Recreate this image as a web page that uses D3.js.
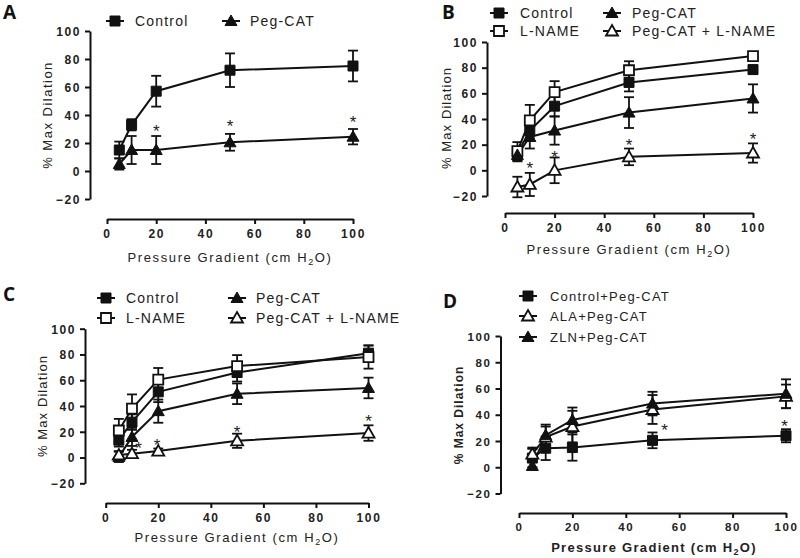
<!DOCTYPE html>
<html lang="en">
<head>
<meta charset="UTF-8">
<title>Max dilation vs pressure gradient</title>
<script src="https://cdn.jsdelivr.net/npm/d3@7/dist/d3.min.js"></script>
<style>
  body { margin: 0; background: #fff; }
  svg { display: block; font-family: "Liberation Sans", Arial, sans-serif; }
</style>
</head>
<body>
<svg width="800" height="558"></svg>
<script>
// ---- data ----
var pressure = [5, 10, 20, 50, 100];
var xTicks = [0, 20, 40, 60, 80, 100];
var yTicks = [-20, 0, 20, 40, 60, 80, 100];

// panel A
var aControl = [15, 33, 57, 72, 75];
var aControlErr = [6, 4, 11, 12, 11];
var aPegCat = [5, 15, 15, 20.5, 24.5];
var aPegCatErr = [4, 10, 10, 6, 5.5];
var aStars = [[20, 31], [50, 34], [100, 37.5]];

// panel B
var bControl = [13, 31, 50, 68.5, 78.5];
var bControlErr = [5, 6, 8, 7, 3];
var bLname = [15, 39, 61, 78, 89];
var bLnameErr = [7, 12, 8.5, 7, 2];
var bPegCat = [12, 26, 31, 45, 56];
var bPegCatErr = [5, 9, 11, 12, 11];
var bPegLname = [-13, -11, 0, 10.5, 13.5];
var bPegLnameErr = [8, 9, 10, 6.5, 7.5];
var bStars = [[10, 4], [20, 13], [50, 22], [100, 26.5]];

// panel C
var cControl = [13.5, 27.5, 51, 66, 81];
var cControlErr = [5, 6, 8, 7, 6];
var cLname = [21, 38, 60.5, 71, 78];
var cLnameErr = [9, 11, 9, 8.5, 9];
var cPegCat = [0.5, 16, 36, 49.5, 54];
var cPegCatErr = [4, 7, 9, 8, 8];
var cPegLname = [2, 3, 5, 13, 19];
var cPegLnameErr = [3, 3, 2, 5.5, 6];
var cStars = [[12.5, 10], [19.5, 12], [50, 22.5], [100, 30.5]];

// panel D
var dControlPeg = [7, 14.5, 15, 20.5, 24];
var dControlPegErr = [7, 9, 10, 6, 5];
var dAlaPeg = [10, 23, 31, 44, 54];
var dAlaPegErr = [5, 8, 12, 11, 9];
var dZlnPeg = [1, 24.5, 36, 48.5, 56];
var dZlnPegErr = [3, 8, 9.5, 9, 11];
var dStars = [[54.5, 31], [99.5, 34]];

var labelsABC = ['Control', 'L-NAME', 'Peg-CAT', 'Peg-CAT + L-NAME'];
var labelsD = ['Control+Peg-CAT', 'ALA+Peg-CAT', 'ZLN+Peg-CAT'];

var svg = d3.select('svg');

// marker shapes, centred on 0,0
function markerPath(kind) {
	if (kind.indexOf('sq') === 0) return 'M-5,-5H5V5H-5Z';
	return 'M0,-6L6,4.5L-6,4.5Z';
}
function drawMarker(g, kind, x, y) {
	var open = kind.indexOf('Open') > 0;
	g.append('path')
		.attr('d', markerPath(kind))
		.attr('transform', 'translate(' + x + ',' + y + ')')
		.attr('fill', open ? '#fff' : '#111')
		.attr('stroke', '#111')
		.attr('stroke-width', open ? 1.8 : 1);
}

function drawPanel(p) {
	var g = svg.append('g');
	var x = d3.scaleLinear().domain([0, 100]).range([p.x0, p.x1]);
	var y = d3.scaleLinear().domain([-20, 100]).range([p.yBottom, p.yTop]);

	var xAxis = g.append('g')
		.attr('transform', 'translate(0,' + p.xAxisY + ')')
		.call(d3.axisBottom(x).tickValues(xTicks).tickSize(5).tickSizeOuter(0).tickPadding(5));
	var yAxis = g.append('g')
		.attr('transform', 'translate(' + p.yAxisX + ',0)')
		.call(d3.axisLeft(y).tickValues(yTicks).tickSize(5).tickSizeOuter(0).tickPadding(4));
	[xAxis, yAxis].forEach(function (a) {
		a.select('.domain').attr('stroke', '#111').attr('stroke-width', 2);
		a.selectAll('.tick line').attr('stroke', '#111').attr('stroke-width', 2);
		a.selectAll('.tick text')
			.attr('fill', '#222')
			.style('font-family', '"Liberation Sans", Arial, sans-serif')
			.style('font-size', p.tickSize + 'px')
			.style('font-weight', 'bold')
			.style('letter-spacing', '1.6px');
	});
	yAxis.selectAll('.tick text').attr('dy', '0.36em');

	// axis titles
	var xt = g.append('text')
		.attr('x', p.xTitleX).attr('y', p.xTitleY)
		.attr('text-anchor', 'middle')
		.attr('fill', '#222')
		.style('font-size', '13px')
		.style('font-weight', p.bold ? 'bold' : 'normal')
		.style('letter-spacing', p.bold ? '1.3px' : '1.6px');
	xt.append('tspan').text('Pressure Gradient (cm H');
	xt.append('tspan').text('2').attr('dy', 3).style('font-size', '9px');
	xt.append('tspan').text('O)').attr('dy', -3);

	g.append('text')
		.attr('transform', 'translate(' + p.yTitleX + ',' + p.yTitleY + ') rotate(-90)')
		.attr('text-anchor', 'middle')
		.attr('fill', '#222')
		.style('font-size', p.bold ? '12px' : '13px')
		.style('font-weight', p.bold ? 'bold' : 'normal')
		.style('letter-spacing', p.yTitleSpacing + 'px')
		.text('% Max Dilation');

	// panel letter
	g.append('text')
		.attr('x', p.letterX).attr('y', p.letterY)
		.attr('fill', '#111')
		.style('font-family', '"Open Sans", "DejaVu Sans", sans-serif')
		.style('font-size', '19px')
		.style('font-weight', 'bold')
		.text(p.letter);

	var line = d3.line()
		.x(function (d) { return x(d.x); })
		.y(function (d) { return y(d.v); });

	p.series.forEach(function (s) {
		var pts = pressure.map(function (px, i) { return {x: px, v: s.values[i], e: s.errors[i]}; });
		g.append('path')
			.datum(pts)
			.attr('fill', 'none')
			.attr('stroke', '#111')
			.attr('stroke-width', 2)
			.attr('d', line);
		var eb = g.append('g').attr('stroke', '#111').attr('stroke-width', 1.8);
		pts.forEach(function (d) {
			var cx = x(d.x);
			eb.append('line').attr('x1', cx).attr('x2', cx).attr('y1', y(d.v + d.e)).attr('y2', y(d.v - d.e));
			eb.append('line').attr('x1', cx - 5).attr('x2', cx + 5).attr('y1', y(d.v + d.e)).attr('y2', y(d.v + d.e));
			eb.append('line').attr('x1', cx - 5).attr('x2', cx + 5).attr('y1', y(d.v - d.e)).attr('y2', y(d.v - d.e));
		});
	});
	p.series.forEach(function (s) {
		pressure.forEach(function (px, i) {
			drawMarker(g, s.kind, x(px), y(s.values[i]));
		});
	});

	p.stars.forEach(function (st) {
		g.append('text')
			.attr('x', x(st[0])).attr('y', y(st[1]) + 9)
			.attr('text-anchor', 'middle')
			.attr('fill', '#222')
			.style('font-size', '17px')
			.text('*');
	});

	// legend
	p.legend.forEach(function (it) {
		g.append('line')
			.attr('x1', it.mx - 9).attr('x2', it.mx + 9)
			.attr('y1', it.my).attr('y2', it.my)
			.attr('stroke', '#111').attr('stroke-width', 2);
		drawMarker(g, it.kind, it.mx, it.my);
		g.append('text')
			.attr('x', it.tx).attr('y', it.my + 5)
			.attr('fill', '#222')
			.style('font-size', p.legendSize + 'px')
			.style('letter-spacing', p.legendSpacing + 'px')
			.text(it.label);
	});
}

drawPanel({
	letter: 'A', letterX: 3, letterY: 19,
	x0: 107, x1: 353, yTop: 31, yBottom: 199, xAxisY: 219, yAxisX: 90,
	tickSize: 12, xTitleX: 230, xTitleY: 262, yTitleX: 52, yTitleY: 115, yTitleSpacing: 1.5,
	legendSize: 14, legendSpacing: 1.2,
	series: [
		{kind: 'sqFill', values: aControl, errors: aControlErr},
		{kind: 'triFill', values: aPegCat, errors: aPegCatErr}
	],
	stars: aStars,
	legend: [
		{kind: 'sqFill', label: labelsABC[0], mx: 115, my: 21, tx: 135},
		{kind: 'triFill', label: labelsABC[2], mx: 231, my: 21, tx: 250}
	]
});

drawPanel({
	letter: 'B', letterX: 442, letterY: 19,
	x0: 505, x1: 753, yTop: 42, yBottom: 196, xAxisY: 213, yAxisX: 487,
	tickSize: 12, xTitleX: 629, xTitleY: 254, yTitleX: 451, yTitleY: 118, yTitleSpacing: 1.1,
	legendSize: 14, legendSpacing: 1.2,
	series: [
		{kind: 'sqFill', values: bControl, errors: bControlErr},
		{kind: 'sqOpen', values: bLname, errors: bLnameErr},
		{kind: 'triFill', values: bPegCat, errors: bPegCatErr},
		{kind: 'triOpen', values: bPegLname, errors: bPegLnameErr}
	],
	stars: bStars,
	legend: [
		{kind: 'sqFill', label: labelsABC[0], mx: 499, my: 13, tx: 520},
		{kind: 'sqOpen', label: labelsABC[1], mx: 499, my: 31, tx: 520},
		{kind: 'triFill', label: labelsABC[2], mx: 612, my: 13, tx: 632},
		{kind: 'triOpen', label: labelsABC[3], mx: 612, my: 31, tx: 632}
	]
});

drawPanel({
	letter: 'C', letterX: 3, letterY: 301,
	x0: 105.7, x1: 368.5, yTop: 328.7, yBottom: 483.3, xAxisY: 503, yAxisX: 85,
	tickSize: 12, xTitleX: 237, xTitleY: 542, yTitleX: 47, yTitleY: 406, yTitleSpacing: 1.1,
	legendSize: 14, legendSpacing: 1.2,
	series: [
		{kind: 'sqFill', values: cControl, errors: cControlErr},
		{kind: 'sqOpen', values: cLname, errors: cLnameErr},
		{kind: 'triFill', values: cPegCat, errors: cPegCatErr},
		{kind: 'triOpen', values: cPegLname, errors: cPegLnameErr}
	],
	stars: cStars,
	legend: [
		{kind: 'sqFill', label: labelsABC[0], mx: 106, my: 298, tx: 126},
		{kind: 'sqOpen', label: labelsABC[1], mx: 106, my: 318, tx: 126},
		{kind: 'triFill', label: labelsABC[2], mx: 237, my: 298, tx: 256},
		{kind: 'triOpen', label: labelsABC[3], mx: 237, my: 318, tx: 256}
	]
});

drawPanel({
	letter: 'D', letterX: 443, letterY: 308, bold: true,
	x0: 519, x1: 786, yTop: 336, yBottom: 493.5, xAxisY: 513, yAxisX: 500.5,
	tickSize: 11.5, xTitleX: 654, xTitleY: 552, yTitleX: 463, yTitleY: 415, yTitleSpacing: 1,
	legendSize: 13, legendSpacing: 1.2,
	series: [
		{kind: 'sqFill', values: dControlPeg, errors: dControlPegErr},
		{kind: 'triOpen', values: dAlaPeg, errors: dAlaPegErr},
		{kind: 'triFill', values: dZlnPeg, errors: dZlnPegErr}
	],
	stars: dStars,
	legend: [
		{kind: 'sqFill', label: labelsD[0], mx: 528, my: 296, tx: 550},
		{kind: 'triOpen', label: labelsD[1], mx: 528, my: 316, tx: 550},
		{kind: 'triFill', label: labelsD[2], mx: 528, my: 337, tx: 550}
	]
});
</script>
</body>
</html>
